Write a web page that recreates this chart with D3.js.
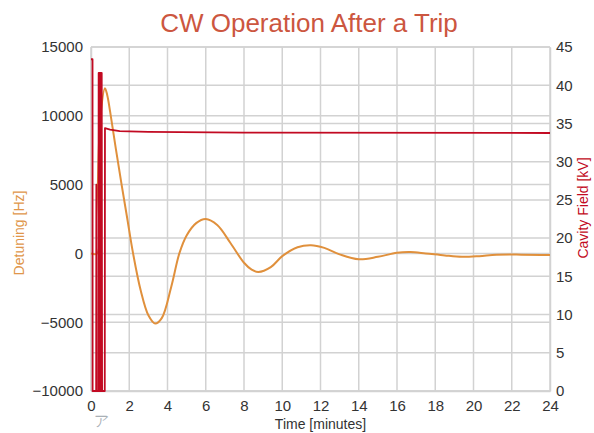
<!DOCTYPE html>
<html>
<head>
<meta charset="utf-8">
<script src="https://cdn.jsdelivr.net/npm/d3@7"></script>
<style>
  body { margin: 0; background: #fff; }
  text { font-family: "Liberation Sans", Arial, sans-serif; }
</style>
</head>
<body>
<svg id="chart" width="594" height="433"></svg>
<script>
// time [minutes] vs detuning [Hz] (left axis)
const detuning = [
    [0, 0], [0.33, 0], [0.36, 5000], [0.5, 10000], [0.73, 12000], [0.85, 11500],
    [1.0, 10300], [1.3, 7600], [1.6, 5000], [1.9, 2500], [2.2, 0], [2.6, -2700],
    [3.0, -4500], [3.35, -5100], [3.7, -4700], [4.2, -2400], [4.62, 0], [5.0, 1300],
    [5.5, 2200], [6.0, 2500], [6.6, 2060], [7.3, 740], [8.0, -680], [8.4, -1180],
    [8.75, -1350], [9.4, -1000], [10.0, -200], [10.8, 450], [11.5, 600], [12.2, 400],
    [13.0, -70], [14.0, -430], [15.0, -250], [16.0, 50], [16.7, 100], [17.5, 0],
    [18.5, -150], [19.4, -250], [20.3, -200], [21.2, -100], [22.5, -90], [24, -120]
];

// time [minutes] vs cavity field [kV] (right axis)
const cavityField = [
    [0, 43.4], [0.08, 43.4], [0.085, 0], [0.27, 0], [0.28, 27], [0.29, 0],
    [0.39, 0], [0.4, 41.6], [0.42, 0], [0.44, 41.6], [0.46, 0], [0.48, 41.6],
    [0.5, 0], [0.52, 41.6], [0.54, 0], [0.56, 41.6], [0.58, 0], [0.72, 0],
    [0.73, 34.4], [1.0, 34.2], [1.5, 34.0], [3, 33.9], [8, 33.8], [24, 33.75]
];

const timeTicks = d3.range(0, 25, 2);
const detuningTicks = [-10000, -5000, 0, 5000, 10000, 15000];
const fieldTicks = d3.range(0, 46, 5);

const svg = d3.select("#chart");
const marge = {top: 47, bottom: 42, left: 91, right: 44};
const width = 594, height = 433;

let x = d3.scaleLinear().domain([0, 24]).range([marge.left, width - marge.right]);
let yL = d3.scaleLinear().domain([-10000, 15000]).range([height - marge.bottom, marge.top]);
let yR = d3.scaleLinear().domain([0, 45]).range([height - marge.bottom, marge.top]);

const gridColor = "#d2d2d2";

// grid
let grid = svg.append("g").attr("stroke", gridColor).attr("stroke-width", 1.5);
grid.selectAll(".vx").data(timeTicks).enter().append("line")
    .attr("x1", d => x(d)).attr("x2", d => x(d))
    .attr("y1", marge.top).attr("y2", height - marge.bottom);
grid.selectAll(".hl").data(detuningTicks).enter().append("line")
    .attr("x1", marge.left).attr("x2", width - marge.right)
    .attr("y1", d => yL(d)).attr("y2", d => yL(d));
grid.selectAll(".hr").data(fieldTicks).enter().append("line")
    .attr("x1", marge.left).attr("x2", width - marge.right)
    .attr("y1", d => yR(d)).attr("y2", d => yR(d));

// axes (labels only, the grid gives the frame)
let xAxis = svg.append("g")
    .attr("transform", `translate(0,${height - marge.bottom})`)
    .call(d3.axisBottom(x).tickValues(timeTicks).tickSize(0).tickPadding(9));
let leftAxis = svg.append("g")
    .attr("transform", `translate(${marge.left},0)`)
    .call(d3.axisLeft(yL).tickValues(detuningTicks).tickFormat(d3.format("d")).tickSize(0).tickPadding(8));
let rightAxis = svg.append("g")
    .attr("transform", `translate(${width - marge.right},0)`)
    .call(d3.axisRight(yR).tickValues(fieldTicks).tickSize(0).tickPadding(6));
[xAxis, leftAxis, rightAxis].forEach(a => {
    a.select(".domain").attr("stroke", gridColor).attr("stroke-width", 1.5);
    a.selectAll("text").attr("font-size", 15).attr("fill", "#333")
        .attr("font-family", "'Liberation Sans', Arial, sans-serif");
});

// series
let detLine = d3.line().x(d => x(d[0])).y(d => yL(d[1])).curve(d3.curveCatmullRom.alpha(0.5));
svg.append("path").datum(detuning)
    .attr("fill", "none").attr("stroke", "#e0903c").attr("stroke-width", 2)
    .attr("d", detLine);

let fieldLine = d3.line().x(d => x(d[0])).y(d => yR(d[1]));
svg.append("path").datum(cavityField)
    .attr("fill", "none").attr("stroke", "#c20a22").attr("stroke-width", 1.8)
    .attr("stroke-linejoin", "round")
    .attr("d", fieldLine);

// titles
svg.append("text")
    .attr("x", 309).attr("y", 32)
    .attr("text-anchor", "middle").attr("font-size", 26).attr("fill", "#cc5640")
    .text("CW Operation After a Trip");

svg.append("text")
    .attr("x", (marge.left + width - marge.right) / 2).attr("y", 429)
    .attr("text-anchor", "middle").attr("font-size", 14).attr("fill", "#333")
    .text("Time [minutes]");

svg.append("text")
    .attr("transform", "translate(24,233) rotate(-90)")
    .attr("text-anchor", "middle").attr("font-size", 14).attr("fill", "#e0964a")
    .text("Detuning [Hz]");

svg.append("text")
    .attr("transform", "translate(588,208) rotate(-90)")
    .attr("text-anchor", "middle").attr("font-size", 14).attr("fill", "#c20a22")
    .text("Cavity Field [kV]");

// the small mark under the origin
svg.append("text")
    .attr("x", 101).attr("y", 426)
    .attr("text-anchor", "middle").attr("font-size", 15).attr("fill", "#a9b0b6")
    .attr("font-family", "'Noto Sans CJK JP', sans-serif")
    .text("ア");
</script>
</body>
</html>
